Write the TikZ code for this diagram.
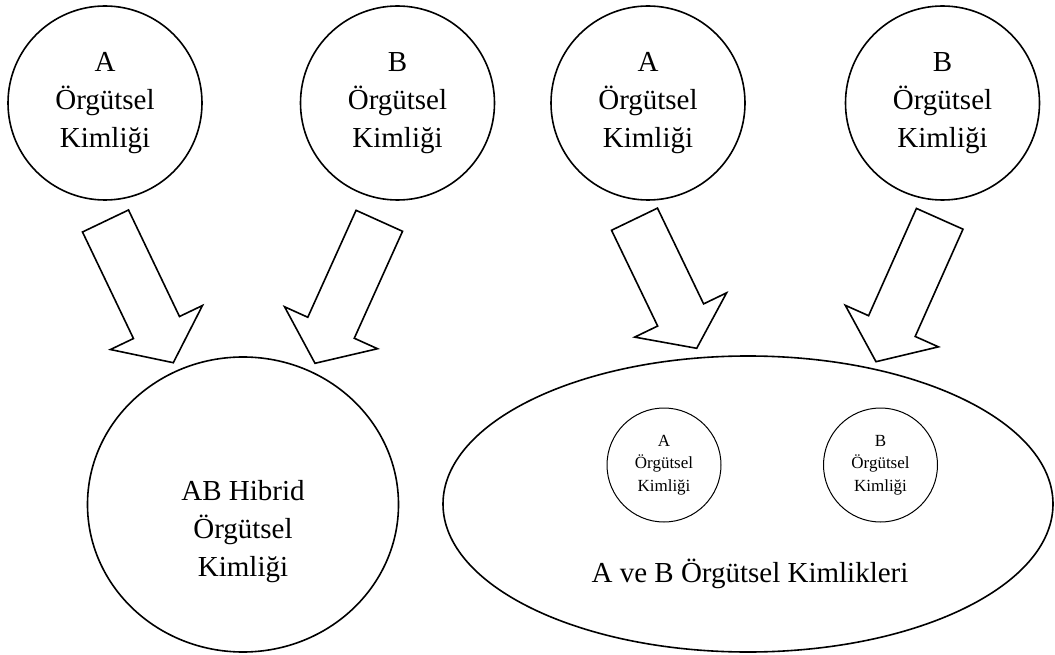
\documentclass[tikz,border=0pt]{standalone}
\usepackage{fontspec}
\setmainfont{Liberation Serif}
\usetikzlibrary{calc,shapes.geometric}
\tikzset{
  outl/.style={draw, line width=1.6pt},
  bigtxt/.style={font=\fontsize{29}{38}\selectfont, align=center, inner sep=0pt},
  smalltxt/.style={font=\fontsize{17}{22.5}\selectfont, align=center, inner sep=0pt},
  topcirc/.style={outl, circle, minimum size=194pt, inner sep=0pt, bigtxt},
  smallcirc/.style={draw, line width=1pt, circle, minimum size=114pt, inner sep=0pt, smalltxt},
  barrow/.style={draw, line width=1.6pt, line join=miter, fill=white},
}
\newcommand{\blockarr}[3]{%
  \coordinate (#1-b) at ($(#2)!#3pt!(#1)$);
  \draw[barrow] ($(#1)!25.5pt!90:(#2)$) -- ($(#1-b)!25.5pt!90:(#2)$)
    -- ($(#1-b)!51pt!90:(#2)$) -- (#2) -- ($(#1-b)!51pt!-90:(#2)$)
    -- ($(#1-b)!25.5pt!-90:(#2)$) -- ($(#1)!25.5pt!-90:(#2)$) -- cycle;}
\begin{document}
\begin{tikzpicture}[x=1pt, y=-1pt]
\useasboundingbox (0,0) rectangle (1055,655);
% top circles
\node[topcirc] (ca) at (105,103) {A\\Örgütsel\\Kimliği};
\node[topcirc] (cb) at (397.5,103) {B\\Örgütsel\\Kimliği};
\node[topcirc] (cc) at (648,103) {A\\Örgütsel\\Kimliği};
\node[topcirc] (cd) at (942.5,103) {B\\Örgütsel\\Kimliği};
% bottom left hybrid circle
\node[outl, ellipse, minimum width=311pt, minimum height=295pt, inner sep=0pt] (hyb) at (243,504.5) {};
\node[bigtxt] (hybt) at (243,532) {AB Hibrid\\Örgütsel\\Kimliği};
% bottom right ellipse
\node[outl, ellipse, minimum width=610pt, minimum height=296pt, inner sep=0pt] (both) at (748,504) {};
\node[smallcirc] (sa) at (664,465) {A\\Örgütsel\\Kimliği};
\node[smallcirc] (sb) at (880.5,465) {B\\Örgütsel\\Kimliği};
\node[bigtxt, anchor=base] (botht) at (750,582) {A ve B Örgütsel Kimlikleri};
% block arrows
\coordinate (a1) at (105.5,221);  \coordinate (p1) at (173.3,362.7);
\coordinate (a2) at (379.3,220.8); \coordinate (p2) at (315,363.3);
\coordinate (a3) at (634.5,219.2); \coordinate (p3) at (696.7,348.3);
\coordinate (a4) at (939.7,218.8); \coordinate (p4) at (876,361.7);
\blockarr{a1}{p1}{39}
\blockarr{a2}{p2}{39}
\blockarr{a3}{p3}{37}
\blockarr{a4}{p4}{39}
\end{tikzpicture}
\end{document}
